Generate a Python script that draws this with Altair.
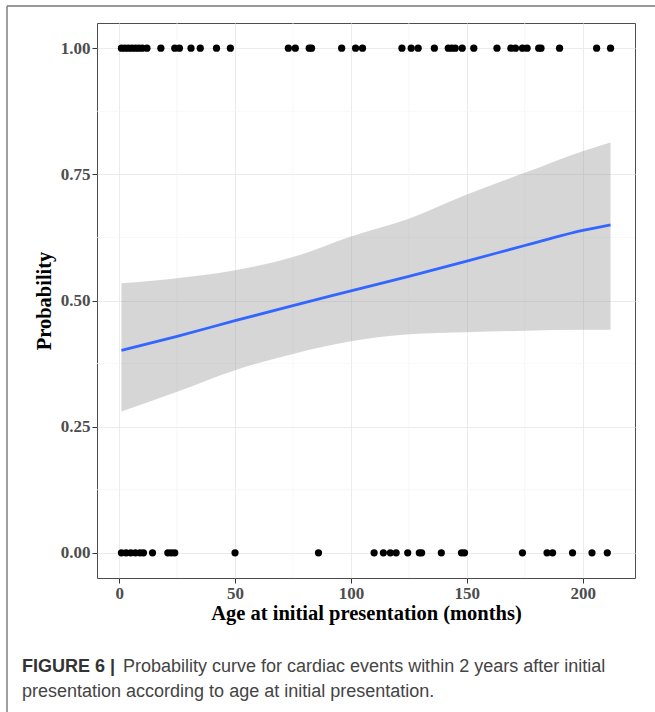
import altair as alt
import pandas as pd

# Observed outcomes (age in months) with event = 1 and event = 0
event_ages = [1, 2.5, 4, 5.5, 7, 8.5, 10, 12, 18, 24, 26, 31, 35, 42, 48,
              73, 76, 82, 83, 96, 102, 105, 122, 126, 129, 136, 142, 143.5,
              145, 148, 153, 163, 169, 171, 174, 176, 181, 182, 190, 206, 212]
no_event_ages = [1, 3, 5, 7, 9, 10.5, 14.4, 21, 22.5, 24, 50, 86, 110, 114,
                 117, 119.5, 124.5, 129.5, 130.5, 139, 147.7, 149, 174, 184.6,
                 187, 195.6, 204, 210.6]

# Fitted probability curve and confidence band
fit_x = [1, 25, 50, 75, 100, 125, 150, 175, 200, 212]
fit_p = [0.401, 0.429, 0.460, 0.490, 0.519, 0.548, 0.578, 0.609, 0.639, 0.650]
ci_lo = [0.280, 0.319, 0.362, 0.394, 0.419, 0.433, 0.437, 0.440, 0.442, 0.442]
ci_hi = [0.534, 0.544, 0.560, 0.586, 0.627, 0.662, 0.710, 0.753, 0.796, 0.813]

x_ticks = [0, 50, 100, 150, 200]
y_ticks = [0, 0.25, 0.5, 0.75, 1.0]
minor_x = [25, 75, 125, 175]
minor_y = [0.125, 0.375, 0.625, 0.875]

W, H = 538, 555
PAD_L, PAD_T = 97, 23

pts = pd.DataFrame({"age": event_ages + no_event_ages,
                    "p": [1.0] * len(event_ages) + [0.0] * len(no_event_ages)})
fit = pd.DataFrame({"age": fit_x, "p": fit_p, "lo": ci_lo, "hi": ci_hi})

xscale = alt.Scale(domain=[-9.55, 222.55], nice=False, zero=False)
yscale = alt.Scale(domain=[-0.05, 1.05], nice=False, zero=False)

serif = "Liberation Serif"
xaxis = alt.Axis(values=x_ticks, title="Age at initial presentation (months)",
                 grid=True, domain=False, format="d")
yaxis = alt.Axis(values=y_ticks, title="Probability", grid=True, domain=False,
                 format=".2f")

minor_gx = alt.Chart(pd.DataFrame({"v": minor_x})).mark_rule(
    color="#f3f3f3", strokeWidth=0.7).encode(x=alt.X("v:Q", scale=xscale, axis=xaxis))
minor_gy = alt.Chart(pd.DataFrame({"v": minor_y})).mark_rule(
    color="#f3f3f3", strokeWidth=0.7).encode(y=alt.Y("v:Q", scale=yscale, axis=yaxis))

band = alt.Chart(fit).mark_area(color="#999999", opacity=0.4, interpolate="monotone").encode(
    x=alt.X("age:Q", scale=xscale, axis=xaxis),
    y=alt.Y("lo:Q", scale=yscale, axis=yaxis),
    y2="hi:Q",
)
line = alt.Chart(fit).mark_line(color="#3366FF", strokeWidth=2.8, interpolate="monotone").encode(
    x=alt.X("age:Q", scale=xscale, axis=xaxis), y=alt.Y("p:Q", scale=yscale, axis=yaxis))
dots = alt.Chart(pts).mark_circle(size=52, color="black", opacity=1).encode(
    x=alt.X("age:Q", scale=xscale, axis=xaxis), y=alt.Y("p:Q", scale=yscale, axis=yaxis))

one = pd.DataFrame({"k": [0]})
frame_left = alt.Chart(one).mark_rule(color="#777777", strokeWidth=1.4).encode(
    x=alt.value(7 - PAD_L), y=alt.value(6 - PAD_T), y2=alt.value(712 - PAD_T))
frame_top = alt.Chart(one).mark_rule(color="#777777", strokeWidth=1.4).encode(
    x=alt.value(7 - PAD_L), x2=alt.value(655 - PAD_L), y=alt.value(6 - PAD_T))

cap_bold = alt.Chart(one).mark_text(
    font="Liberation Sans", fontSize=18, fontWeight="bold", color="#333333",
    align="left", baseline="middle").encode(
    x=alt.value(22 - PAD_L), y=alt.value(667 - PAD_T), text=alt.value("FIGURE 6 |"))
cap_1 = alt.Chart(one).mark_text(
    font="Liberation Sans", fontSize=18, color="#444444",
    align="left", baseline="middle").encode(
    x=alt.value(123 - PAD_L), y=alt.value(667 - PAD_T),
    text=alt.value("Probability curve for cardiac events within 2 years after initial"))
cap_2 = alt.Chart(one).mark_text(
    font="Liberation Sans", fontSize=18, color="#444444",
    align="left", baseline="middle").encode(
    x=alt.value(22 - PAD_L), y=alt.value(692 - PAD_T),
    text=alt.value("presentation according to age at initial presentation."))

chart = alt.layer(
    minor_gx, minor_gy, band, line, dots, frame_left, frame_top, cap_bold, cap_1, cap_2
).properties(
    width=W, height=H,
    autosize=alt.AutoSizeParams(type="none"),
    padding={"left": PAD_L, "top": PAD_T, "right": 655 - PAD_L - W, "bottom": 712 - PAD_T - H},
).configure_view(
    stroke="#4d4d4d", strokeWidth=1, fill="white"
).configure_axis(
    gridColor="#ebebeb", gridWidth=1,
    tickColor="#333333", tickSize=5, tickWidth=1,
    labelFont=serif, labelFontWeight="bold", labelFontSize=17, labelColor="#4d4d4d",
    labelPadding=2,
    titleFont=serif, titleFontWeight="bold", titleFontSize=20.5, titleColor="black",
).configure_axisX(titlePadding=2).configure_axisY(titlePadding=6)

chart.save("out.html", embed_options={"renderer": "svg", "actions": False})
